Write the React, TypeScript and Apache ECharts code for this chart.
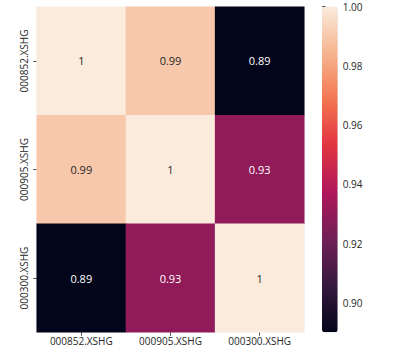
import React, { useEffect, useRef } from "react";
import * as echarts from "echarts";

const xCategories = ["000852.XSHG", "000905.XSHG", "000300.XSHG"];
const yCategories = ["000852.XSHG", "000905.XSHG", "000300.XSHG"];
const row852 = [1, 0.99, 0.89];
const row905 = [0.99, 1, 0.93];
const row300 = [0.89, 0.93, 1];
const rows = [row852, row905, row300];
const colorMin = 0.89;
const colorMax = 1.0;
const colorbarTicks = [0.9, 0.92, 0.94, 0.96, 0.98, 1.0];
const rocket = ["#03051a", "#35193e", "#701f57", "#ad1759", "#e13342", "#f37651", "#f6b48f", "#faebdd"];

const FONT = "Open Sans";

export default function App() {
  const ref = useRef<HTMLDivElement>(null);
  useEffect(() => {
    document.body.style.margin = "0";
    const chart = echarts.init(ref.current!, null, { renderer: "svg" });
    const data: any[] = [];
    rows.forEach((row, yi) => {
      row.forEach((v, xi) => {
        const t = (v - colorMin) / (colorMax - colorMin);
        data.push({
          value: [xi, yi, v],
          label: { color: t > 0.6 ? "#262626" : "#ffffff" },
        });
      });
    });
    chart.setOption({
      animation: false,
      grid: [
        { left: 36.7, top: 6.7, width: 267.6, height: 325.6 },
        { left: 322, top: 6.7, width: 15.7, height: 325.6 },
      ],
      xAxis: [
        {
          type: "category",
          data: xCategories,
          gridIndex: 0,
          axisLine: { show: false },
          axisTick: { show: true, alignWithLabel: true, length: 3.5, lineStyle: { color: "#262626", width: 0.8 } },
          axisLabel: { fontFamily: FONT, fontSize: 10, color: "#262626", margin: 4 },
          splitLine: { show: false },
        },
        { type: "value", gridIndex: 1, show: false },
      ],
      yAxis: [
        {
          type: "category",
          data: yCategories,
          inverse: true,
          gridIndex: 0,
          axisLine: { show: false },
          axisTick: { show: true, alignWithLabel: true, length: 3.5, lineStyle: { color: "#262626", width: 0.8 } },
          axisLabel: { fontFamily: FONT, fontSize: 10, color: "#262626", rotate: 90, margin: 8 },
          splitLine: { show: false },
        },
        {
          type: "value",
          gridIndex: 1,
          position: "right",
          min: colorMin,
          max: colorMax,
          axisLine: { show: false },
          splitLine: { show: false },
          axisTick: { show: true, length: 3.5, customValues: colorbarTicks, lineStyle: { color: "#262626", width: 0.8 } },
          axisLabel: {
            fontFamily: FONT,
            fontSize: 10,
            color: "#262626",
            margin: 5,
            customValues: colorbarTicks,
            formatter: (v: number) => v.toFixed(2),
          },
        },
      ],
      visualMap: {
        type: "continuous",
        min: colorMin,
        max: colorMax,
        seriesIndex: 0,
        calculable: false,
        left: 322,
        top: 6.7,
        itemWidth: 15.7,
        itemHeight: 325.6,
        padding: 0,
        text: null,
        showLabel: false,
        inRange: { color: rocket },
      },
      series: [
        {
          type: "heatmap",
          xAxisIndex: 0,
          yAxisIndex: 0,
          data,
          label: {
            show: true,
            fontFamily: FONT,
            fontSize: 11,
            formatter: (p: any) => String(parseFloat(p.value[2].toFixed(2))),
          },
          itemStyle: { borderWidth: 0 },
        },
        {
          type: "scatter",
          xAxisIndex: 1,
          yAxisIndex: 1,
          data: [],
        },
      ],
    });
    return () => chart.dispose();
  }, []);
  return <div ref={ref} style={{ width: 394, height: 354 }} />;
}
